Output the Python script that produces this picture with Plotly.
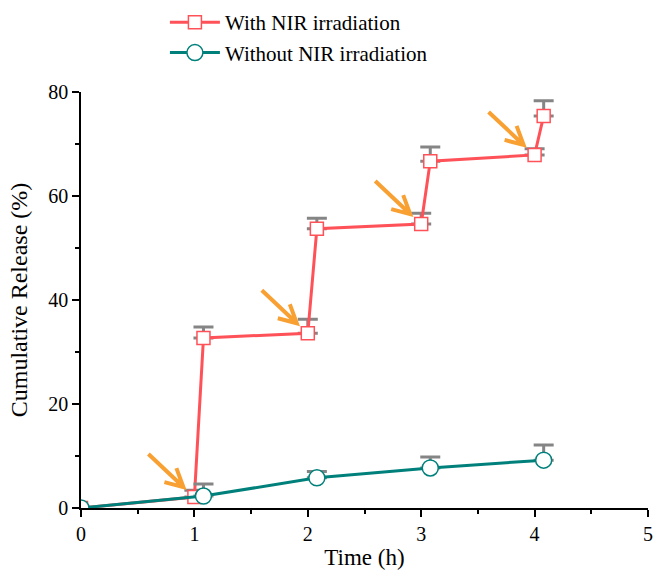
import plotly.graph_objects as go

# Data
time_with = [0, 1, 1.08, 2, 2.08, 3, 3.08, 4, 4.08]
release_with = [0, 2.1, 32.7, 33.6, 53.7, 54.6, 66.7, 67.9, 75.4]
err_with = [0, 1.3, 2.1, 2.7, 2.0, 2.1, 2.7, 1.2, 2.9]

time_without = [0, 1.08, 2.08, 3.08, 4.08]
release_without = [0, 2.3, 5.8, 7.7, 9.2]
err_without = [0, 2.3, 1.2, 2.1, 2.9]

# NIR irradiation switch-on points (arrows)
arrow_x = [1, 2, 3, 4]
arrow_y = [2.1, 33.6, 54.6, 67.9]

RED = "#FF5258"
TEAL = "#00807B"
GRAY = "#858585"
ORANGE = "#F9A032"
FONT = "Liberation Serif, Times New Roman, serif"

fig = go.Figure()

fig.add_trace(go.Scatter(
    x=time_with, y=release_with, mode="lines+markers",
    name="With NIR irradiation",
    line=dict(color=RED, width=3),
    marker=dict(symbol="square", size=13, color="white",
                line=dict(color=RED, width=1.5)),
    error_y=dict(type="data", array=err_with, arrayminus=[0]*len(err_with),
                 color=GRAY, thickness=3, width=10),
))

fig.add_trace(go.Scatter(
    x=time_without, y=release_without, mode="lines+markers",
    name="Without NIR irradiation",
    line=dict(color=TEAL, width=3),
    marker=dict(symbol="circle", size=16, color="white",
                line=dict(color=TEAL, width=1.5)),
    error_y=dict(type="data", array=err_without, arrayminus=[0]*len(err_without),
                 color=GRAY, thickness=3, width=10),
))

shapes = []
for ax_, ay_ in zip(arrow_x, arrow_y):
    shapes.append(dict(
        type="path", xref="x", yref="y",
        xsizemode="pixel", ysizemode="pixel",
        xanchor=ax_, yanchor=ay_,
        path="M-46,43 L-11,10 M-18,29 L-11,10 L-30,15",
        line=dict(color=ORANGE, width=4),
        layer="above",
    ))

fig.update_layout(
    width=654, height=570,
    margin=dict(l=81, r=6, t=92, b=62, autoexpand=False),
    paper_bgcolor="white", plot_bgcolor="white",
    font=dict(family=FONT, size=20, color="black"),
    shapes=shapes,
    showlegend=True,
    legend=dict(
        x=0.148, xanchor="left", xref="paper",
        y=0.934, yanchor="middle", yref="container",
        font=dict(family=FONT, size=21, color="black"),
        bgcolor="rgba(0,0,0,0)", itemwidth=50, tracegroupgap=0,
    ),
    xaxis=dict(
        range=[0, 5], dtick=1, tick0=0, automargin=False,
        showgrid=False, zeroline=False,
        showline=True, linecolor="black", linewidth=1.5,
        ticks="outside", ticklen=7, tickwidth=1.5, tickcolor="black",
        minor=dict(dtick=0.5, ticks="outside", ticklen=4, tickwidth=1.5, tickcolor="black"),
        title=dict(text="Time (h)", font=dict(family=FONT, size=23), standoff=25),
        tickfont=dict(family=FONT, size=20),
    ),
    yaxis=dict(
        range=[0, 80], dtick=20, tick0=0, automargin=False,
        showgrid=False, zeroline=False,
        showline=True, linecolor="black", linewidth=1.5,
        ticks="outside", ticklen=7, tickwidth=1.5, tickcolor="black",
        minor=dict(dtick=10, ticks="outside", ticklen=4, tickwidth=1.5, tickcolor="black"),
        title=dict(text="Cumulative Release (%)", font=dict(family=FONT, size=24), standoff=14),
        tickfont=dict(family=FONT, size=20),
    ),
)

# remove the default 8px page margin so the figure fills the window exactly
fig.write_html("out.html", config={"displayModeBar": False},
               post_script="document.body.style.margin='0';")
